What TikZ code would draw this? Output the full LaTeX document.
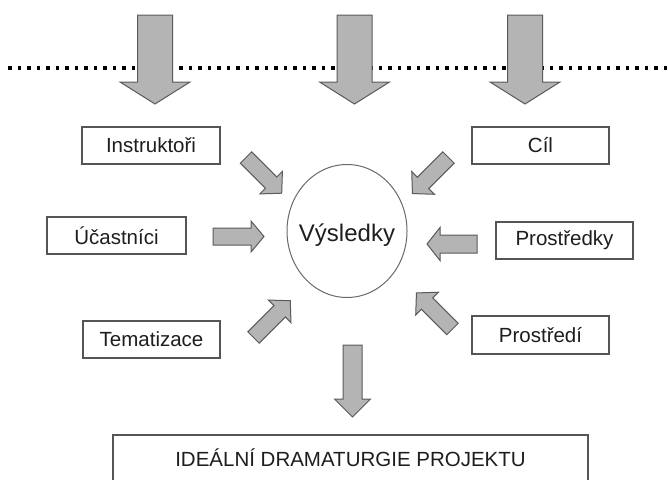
\documentclass[tikz,border=0pt]{standalone}
\usepackage{fontspec}
\setmainfont{Liberation Sans}
\usetikzlibrary{shapes.geometric}

\definecolor{arrowfill}{RGB}{180,180,180}
\definecolor{arrowline}{RGB}{90,90,90}
\definecolor{boxline}{RGB}{85,85,85}
\definecolor{ringline}{RGB}{105,105,105}
\definecolor{txt}{RGB}{30,30,30}

\tikzset{
  labelbox/.style={rectangle, draw=boxline, line width=1.3pt, fill=white, inner sep=0pt,
    text=txt, font=\fontsize{20.5}{24}\selectfont, minimum height=37pt},
  blockarrow/.style={draw=arrowline, fill=arrowfill, line width=1pt, line join=miter},
  borderline/.style={line width=3.8pt, dash pattern=on 3.8pt off 5.7pt, black},
}

% block arrow: #1 tail centre, #2 direction, #3 length,
% #4 shaft half width, #5 head half width, #6 head length
\newcommand{\blockarr}[6]{%
  \draw[blockarrow, shift={#1}, rotate=#2]
    (0,-#4) -- ({#3-#6},-#4) -- ({#3-#6},-#5) -- (#3,0) --
    ({#3-#6},#5) -- ({#3-#6},#4) -- (0,#4) -- cycle;}

\begin{document}
\begin{tikzpicture}[x=1pt,y=1pt]
  \useasboundingbox (0,0) rectangle (668,-479);

  % dotted border line
  \coordinate (lineL) at (8,-68);
  \coordinate (lineR) at (668,-68);
  \draw[borderline] (lineL) -- (lineR);

  % incoming arrows across the border
  \blockarr{(155,-15)}{-90}{89}{17.5}{35}{22}
  \blockarr{(354.5,-15)}{-90}{89}{17.5}{35}{22}
  \blockarr{(525,-15)}{-90}{89}{17.5}{35}{22}

  % centre
  \node[ellipse, draw=ringline, line width=1pt, minimum width=120pt, minimum height=133pt,
        inner sep=0pt] (res) at (347,-231) {};
  \node[inner sep=0pt, text=txt, font=\fontsize{24}{28}\selectfont] (restext)
       at ([yshift=-4pt]res.center) {Výsledky};

  % factors
  \node[labelbox, minimum width=138pt] (instr) at (151,-145.5) {Instruktoři};
  \node[labelbox, minimum width=139pt] (ucast) at (116.5,-235.5) {Účastníci};
  \node[labelbox, minimum width=137pt] (tema) at (151.5,-339.5) {Tematizace};
  \node[labelbox, minimum width=137pt] (cil) at (540.5,-145.5) {Cíl};
  \node[labelbox, minimum width=137pt] (prky) at (564.5,-240.5) {Prostředky};
  \node[labelbox, minimum width=137pt, minimum height=38pt] (prdi) at (540.5,-335) {Prostředí};

  % arrows towards the centre
  \blockarr{(246,-157.5)}{-45}{50.5}{8}{16}{15}
  \blockarr{(213,-236.5)}{0}{51}{8.5}{15.5}{13}
  \blockarr{(253.5,-337.5)}{45}{52}{8}{16}{15}
  \blockarr{(448.5,-157.5)}{-135}{51}{8}{16}{15}
  \blockarr{(477,-244)}{180}{50}{9}{16.5}{13}
  \blockarr{(452.5,-329)}{135}{51}{8}{16}{15}

  % result
  \blockarr{(352.5,-345)}{-90}{72}{9.5}{18}{18}
  \node[labelbox, minimum width=475pt, minimum height=50pt] (ideal) at (350.5,-460) {};
  \node[inner sep=0pt, text=txt, font=\fontsize{20.5}{24}\selectfont] (idealtext)
       at ([yshift=2pt]ideal.center) {IDEÁLNÍ DRAMATURGIE PROJEKTU};
\end{tikzpicture}
\end{document}
